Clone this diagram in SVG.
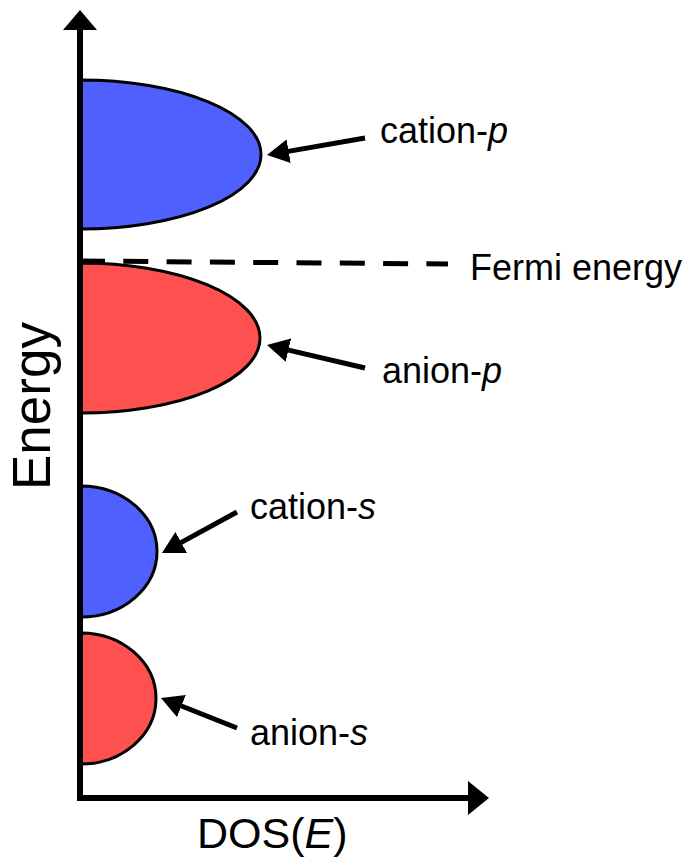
<svg xmlns="http://www.w3.org/2000/svg" width="684" height="857" viewBox="0 0 684 857">
<style>
.lbl{font-family:"Liberation Sans",Arial,sans-serif;font-size:36px;fill:#000}
.band{stroke:#000;stroke-width:3}
.blue{fill:#5060FF}
.red{fill:#FF5050}
.arr{stroke:#000;stroke-width:5;fill:none;marker-end:url(#head)}
</style>
<defs>
<marker id="head" markerUnits="userSpaceOnUse" viewBox="0 0 22 24" refX="2" refY="12" markerWidth="22" markerHeight="24" orient="auto">
<path d="M0,0 L22,12 L0,24 Z" fill="#000"/>
</marker>
</defs>
<rect width="684" height="857" fill="#fff"/>
<g id="cation-p"><path class="band blue" d="M81,80 A180,74.5 0 0 1 81,229 Z"/><text class="lbl" x="380" y="143">cation-<tspan font-style="italic">p</tspan></text></g>
<g id="anion-p"><path class="band red" d="M81,263 A179,75 0 0 1 81,413 Z"/><text class="lbl" x="382" y="383">anion-<tspan font-style="italic">p</tspan></text></g>
<g id="cation-s"><path class="band blue" d="M81,486 A76,65.5 0 0 1 81,617 Z"/><text class="lbl" x="250" y="519">cation-<tspan font-style="italic">s</tspan></text></g>
<g id="anion-s"><path class="band red" d="M81,633 A75,65.5 0 0 1 81,764 Z"/><text class="lbl" x="250" y="745">anion-<tspan font-style="italic">s</tspan></text></g>
<g id="fermi"><line x1="80" y1="261" x2="448" y2="264" stroke="#000" stroke-width="5" stroke-dasharray="25 18.3"/><text class="lbl" x="470" y="280">Fermi energy</text></g>
<g id="axes">
<path d="M80,28 V798 H470" fill="none" stroke="#000" stroke-width="6"/>
<polygon points="80,10 97,30 63,30" fill="#000"/>
<polygon points="489,798 468,781 468,815" fill="#000"/>
<text class="lbl" style="font-size:53px" transform="translate(50,490) rotate(-90)">Energy</text>
<text class="lbl" style="font-size:43px" x="197" y="848">DOS(<tspan font-style="italic">E</tspan>)</text>
</g>
<g id="connectors">
<line class="arr" x1="365" y1="138" x2="286.7" y2="151.6"/>
<line class="arr" x1="365" y1="368" x2="286.5" y2="349.6"/>
<line class="arr" x1="237" y1="512" x2="179.5" y2="543.4"/>
<line class="arr" x1="237" y1="728" x2="179.6" y2="705.3"/>
</g>
</svg>
